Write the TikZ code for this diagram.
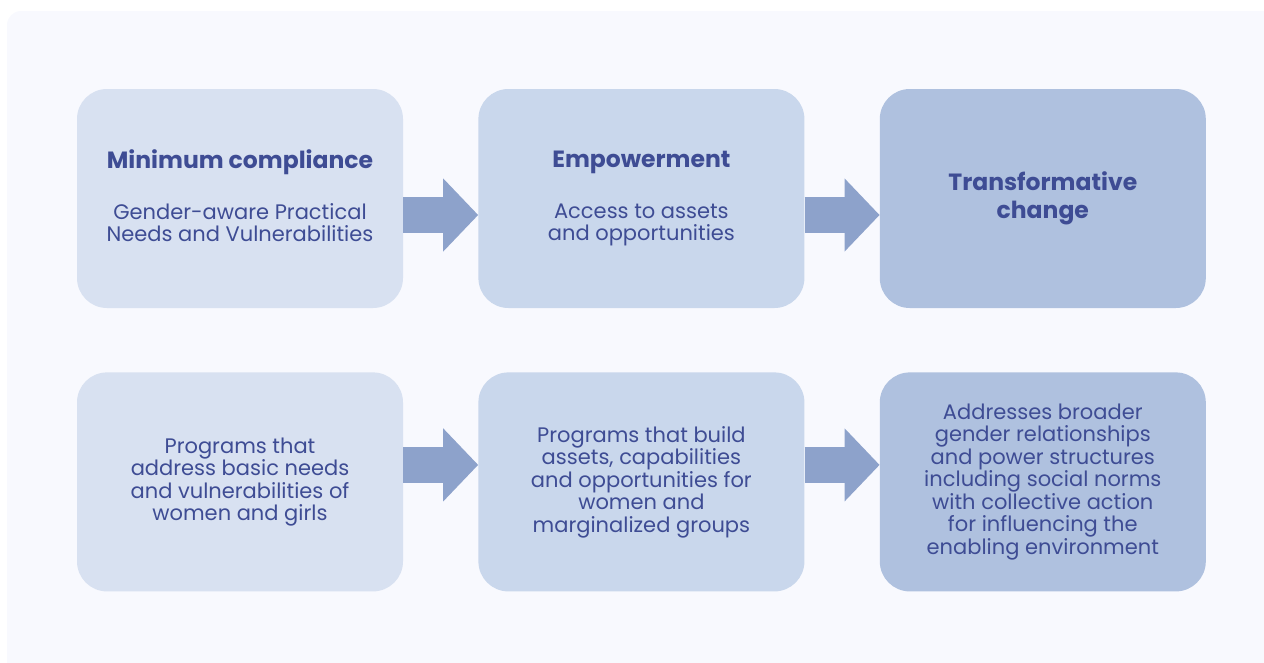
\documentclass[tikz,border=0pt]{standalone}
\usepackage{fontspec}
\setmainfont{Poppins}
\usetikzlibrary{positioning, arrows.meta}
\definecolor{panelbg}{HTML}{F8F9FE}
\definecolor{boxa}{HTML}{D8E1F1}
\definecolor{boxb}{HTML}{C9D7EC}
\definecolor{boxc}{HTML}{AFC1DF}
\definecolor{arrowc}{HTML}{8DA2CB}
\definecolor{ink}{HTML}{3E4C94}
\tikzset{
  stage/.style={rounded corners=30pt, minimum width=326pt, minimum height=219pt,
    inner sep=0pt, align=center, text=ink, font=\fontsize{21}{22.5}\selectfont},
  head/.style={font=\bfseries\fontsize{23.5}{28}\selectfont},
  flow/.style={arrowc, line width=36pt, -{Triangle[length=35pt, width=71pt]}}
}
\newcommand{\ttl}[1]{{\bfseries\fontsize{23.5}{22.5}\selectfont #1}}

\begin{document}
\begin{tikzpicture}[x=1pt, y=-1pt, node distance=75pt]
    \useasboundingbox (0,0) rectangle (1264,662);
    \begin{scope}
        \clip (0,0) rectangle (1264,662);
        \fill[panelbg, rounded corners=14pt] (7,11) rectangle (1290,690);
    \end{scope}

    % top row
    \node[stage, fill=boxa] (mincomp) at (240,198.5)
        {\ttl{Minimum compliance}\\[28.5pt]Gender-aware Practical\\Needs and Vulnerabilities\vphantom{p}};
    \node[stage, fill=boxb, right=of mincomp] (empower)
        {\ttl{Empowerment}\\[28.5pt]Access to assets\\and opportunities};
    \node[stage, fill=boxc, right=of empower, head] (transform)
        {Transformative\\change};

    % bottom row
    \node[stage, fill=boxa, below=64pt of mincomp] (basic)
        {Programs that\\address basic needs\\and vulnerabilities of\\women and girls};
    \node[stage, fill=boxb, right=of basic] (build)
        {Programs that build\\assets, capabilities\\and opportunities for\\women and\\marginalized groups};
    \node[stage, fill=boxc, right=of build] (broader)
        {Addresses broader\\gender relationships\\and power structures\\including social norms\\with collective action\\for influencing the\\enabling environment};

    % arrows
    \draw[flow] ([yshift=-16.5pt]mincomp.east) -- ([yshift=-16.5pt]empower.west);
    \draw[flow] ([yshift=-16.5pt]empower.east) -- ([yshift=-16.5pt]transform.west);
    \draw[flow] ([yshift=17pt]basic.east) -- ([yshift=17pt]build.west);
    \draw[flow] ([yshift=17pt]build.east) -- ([yshift=17pt]broader.west);
\end{tikzpicture}
\end{document}
